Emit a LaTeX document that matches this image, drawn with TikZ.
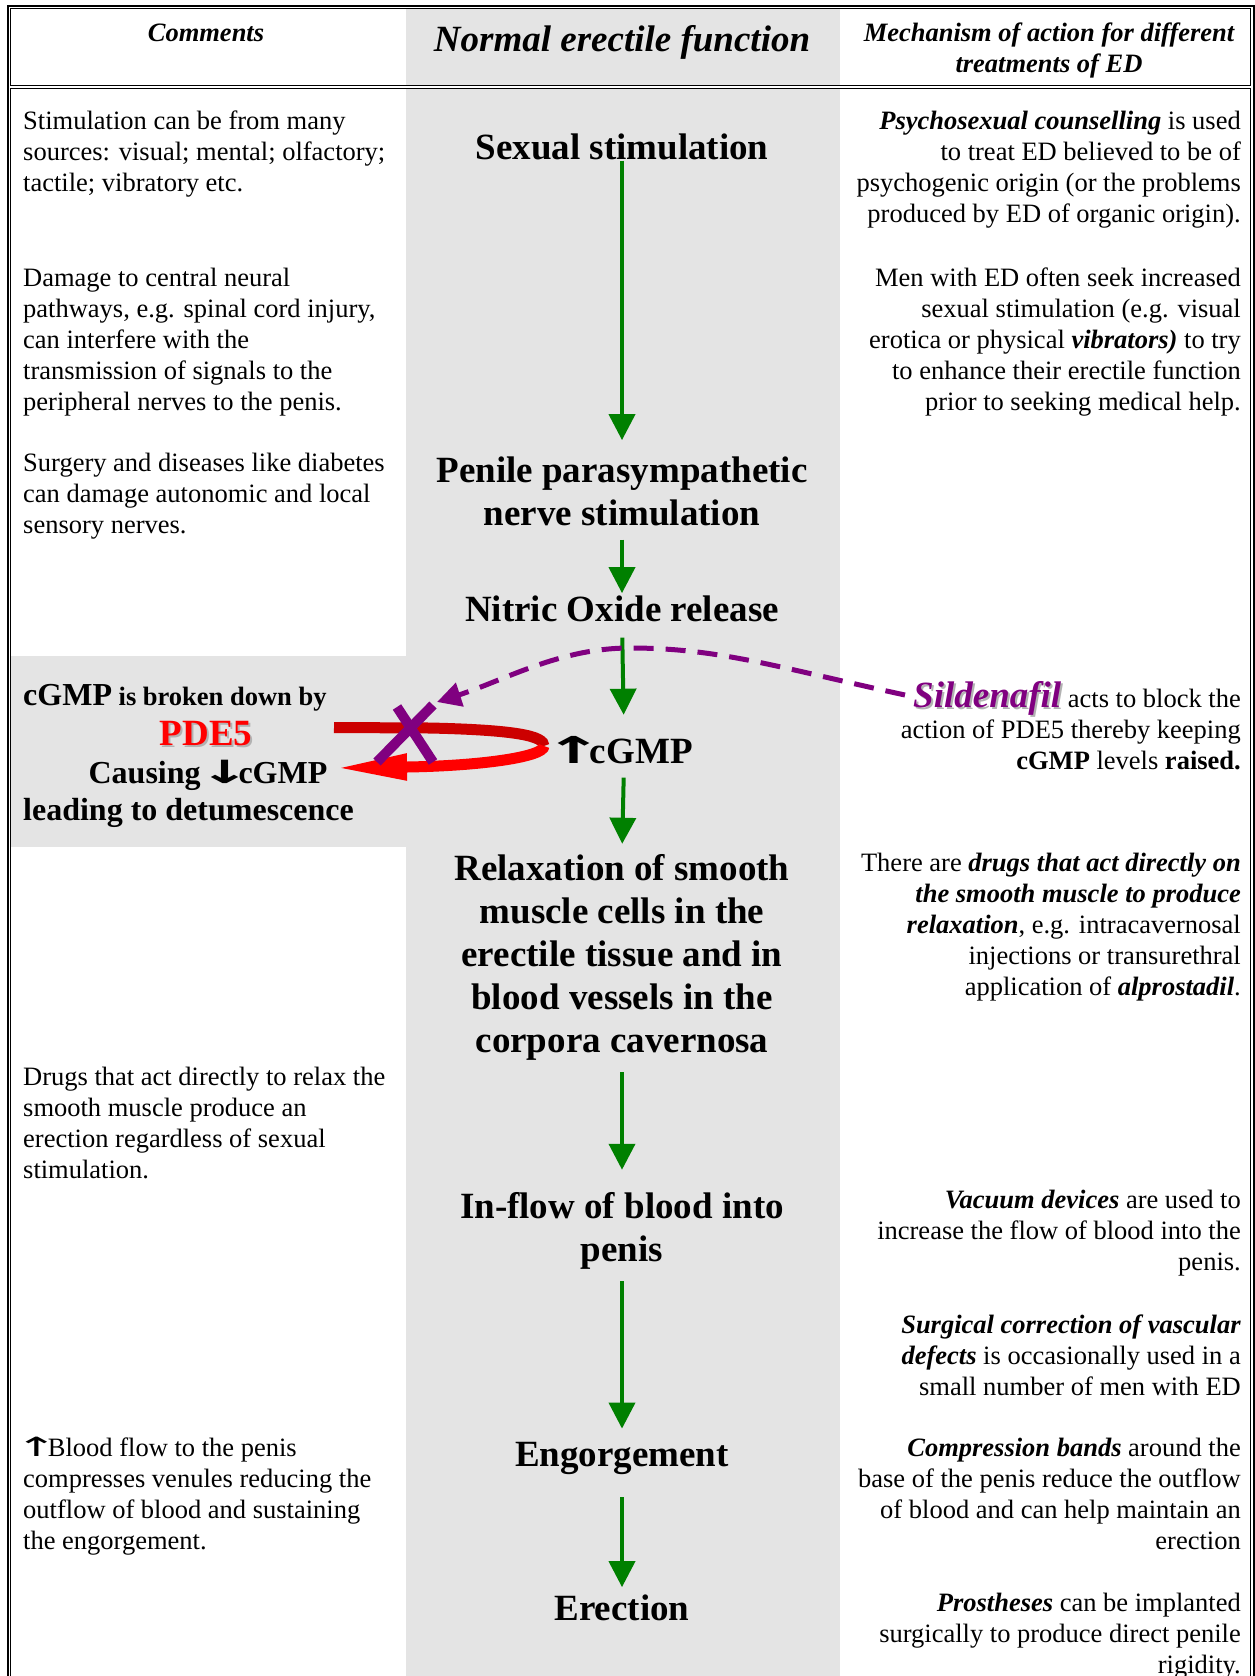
\documentclass[tikz,border=0pt]{standalone}
\usepackage{fontspec}
\usepackage{graphicx}
\setmainfont{Liberation Serif}
\newfontfamily\arrowfont{DejaVu Sans}
\usetikzlibrary{arrows.meta}

\definecolor{colgray}{RGB}{228,228,228}
\definecolor{flowgreen}{RGB}{0,128,0}
\definecolor{sildpurple}{RGB}{128,0,128}
\definecolor{ribbondark}{RGB}{204,0,0}
\newcommand{\bodyfont}{\fontsize{26.5}{31}\selectfont}
\newcommand{\stepfont}{\fontsize{37}{43}\selectfont\bfseries}
\newcommand{\midfont}{\fontsize{32}{38}\selectfont\bfseries}
\newcommand{\emphbi}[1]{\textbf{\textit{#1}}}
\newcommand{\uparr}{{\arrowfont\kern-.3em\scalebox{1.9}[1]{↑}\kern-.36em}}
\newcommand{\downarr}{{\arrowfont\kern-.3em\scalebox{1.9}[1]{↓}\kern-.36em}}
\newcommand{\shadowed}[2]{\leavevmode\rlap{\kern2pt\raisebox{-2pt}{\color{black!30}#2}}{\color{#1}#2}}

\begin{document}
\begin{tikzpicture}[x=1pt, y=-1pt,
    lefttext/.style={anchor=base west, align=left, inner sep=0pt, font=\bodyfont},
    righttext/.style={anchor=base east, align=right, inner sep=0pt, font=\bodyfont},
    steptext/.style={anchor=base, align=center, inner sep=0pt, font=\stepfont},
    headtext/.style={anchor=base, align=center, inner sep=0pt, font=\bodyfont\bfseries\itshape},
    flow/.style={-{Triangle[width=26pt,length=26pt]}, line width=4pt, flowgreen}]
    \useasboundingbox (0,0) rectangle (1255,1676);
    % shaded column and the PDE5 cell
    \fill[colgray] (406,9) rectangle (840,86);
    \fill[colgray] (406,89) rectangle (840,1676);
    \fill[colgray] (11,656) rectangle (406,847);
    % table frame
    \draw[line width=2pt] (7.7,1676) -- (7.7,5.8) -- (1253.5,5.8) -- (1253.5,1676);
    \draw[line width=1.3pt] (10.7,8.5) rectangle (1250.7,85.5);
    \draw[line width=1.5pt] (10.7,1676) -- (10.7,88.5) -- (1250.7,88.5) -- (1250.7,1676);

    % headings (multi-line nodes sit on their last line)
    \node[headtext] (comments) at (206,41) {Comments};
    \node[headtext, font=\stepfont\itshape] (normal) at (622,51) {Normal erectile function};
    \node[headtext] (mechanism) at (1049,72) {Mechanism of action for different\\treatments of ED};

    % the chain of events
    \node[steptext] (sexual) at (622,159) {Sexual stimulation};
    \node[steptext] (penile) at (622,525) {Penile parasympathetic\\nerve stimulation};
    \node[steptext] (nitric) at (622,621) {Nitric Oxide release};
    \node[steptext] (cgmp) at (624,763) {\uparr cGMP};
    \node[steptext] (relax) at (622,1052) {Relaxation of smooth\\muscle cells in the\\erectile tissue and in\\blood vessels in the\\corpora cavernosa};
    \node[steptext] (inflow) at (622,1261) {In-flow of blood into\\penis};
    \node[steptext] (engorge) at (622,1466) {Engorgement};
    \node[steptext] (erection) at (622,1620) {Erection};

    \foreach \from/\to/\gapa/\gapb in {sexual/penile/1/16, penile/nitric/14/2,
        nitric/cgmp/16/21, cgmp/relax/14/10, relax/inflow/12/22,
        inflow/engorge/12/13, engorge/erection/23/7}
    \draw[flow, shorten <=\gapa pt, shorten >=\gapb pt] (\from.south) -- (\to.north);

    % comments
    \node[lefttext] (stimsrc) at (23,191) {Stimulation can be from many\\sources: visual; mental; olfactory;\\tactile; vibratory etc.};
    \node[lefttext] (damage) at (23,410) {Damage to central neural\\pathways, e.g. spinal cord injury,\\can interfere with the\\transmission of signals to the\\peripheral nerves to the penis.};
    \node[lefttext] (surgery) at (23,533) {Surgery and diseases like diabetes\\can damage autonomic and local\\sensory nerves.};
    \node[lefttext] (relaxdrug) at (23,1178) {Drugs that act directly to relax the\\smooth muscle produce an\\erection regardless of sexual\\stimulation.};
    \node[lefttext] (bloodflow) at (23,1549) {\uparr Blood flow to the penis\\compresses venules reducing the\\outflow of blood and sustaining\\the engorgement.};

    % PDE5 cell
    \node[lefttext, font=\bodyfont\bfseries] (broken) at (23,705) {{\midfont cGMP} is broken down by};
    \node[anchor=base, inner sep=0pt, font=\stepfont] (pde) at (206,745) {\shadowed{red}{PDE5}};
    \node[anchor=base, inner sep=0pt, font=\midfont] (causing) at (208,783) {Causing \downarr cGMP};
    \node[anchor=base west, inner sep=0pt, font=\midfont] (detum) at (23,820) {leading to detumescence};

    % treatments
    \node[righttext] (psycho) at (1241,222) {\emphbi{Psychosexual counselling} is used\\to treat ED believed to be of\\psychogenic origin (or the problems\\produced by ED of organic origin).};
    \node[righttext] (seekstim) at (1241,410) {Men with ED often seek increased\\sexual stimulation (e.g. visual\\erotica or physical \emphbi{vibrators)} to try\\to enhance their erectile function\\prior to seeking medical help.};
    \node[righttext] (sild) at (1241,769) {\shadowed{sildpurple}{\fontsize{37}{31}\selectfont\bfseries\itshape Sildenafil} acts to block the\\action of PDE5 thereby keeping\\\textbf{cGMP} levels \textbf{raised.}};
    \node[righttext] (directdrug) at (1241,995) {There are \emphbi{drugs that act directly on}\\\emphbi{the smooth muscle to produce}\\\emphbi{relaxation}, e.g. intracavernosal\\injections or transurethral\\application of \emphbi{alprostadil}.};
    \node[righttext] (vacuum) at (1241,1270) {\emphbi{Vacuum devices} are used to\\increase the flow of blood into the\\penis.};
    \node[righttext] (surgcorr) at (1241,1395) {\emphbi{Surgical correction of vascular}\\\emphbi{defects} is occasionally used in a\\small number of men with ED};
    \node[righttext] (compress) at (1241,1549) {\emphbi{Compression bands} around the\\base of the penis reduce the outflow\\of blood and can help maintain an\\erection};
    \node[righttext] (prosth) at (1241,1673) {\emphbi{Prostheses} can be implanted\\surgically to produce direct penile\\rigidity.};

    % breakdown loop, blocked
    \coordinate (loopstart) at (334,727.5);
    \coordinate (loopturn) at (544,746);
    \coordinate (looptip) at (334,768);
    \draw[line width=11pt, ribbondark] (loopstart) -- (430,728) .. controls (517,730) and (544,736) .. (loopturn);
    \draw[line width=11pt, red, -{Triangle[length=73pt,width=24pt]}] (loopturn) .. controls (544,757) and (480,766) .. (looptip);
    \draw[line width=10pt, sildpurple] (397,707) -- (433,762) (433,705) -- (377,762);
    \coordinate (sildin) at (905,695);
    \coordinate (blocktip) at (437,702);
    \draw[sildpurple, line width=5pt, dash pattern=on 20pt off 12pt, -{Triangle[length=24pt,width=24pt]}]
        (sildin) .. controls (780,668) and (720,648) .. (630,648) .. controls (560,648) and (505,680) .. (blocktip);
\end{tikzpicture}
\end{document}
